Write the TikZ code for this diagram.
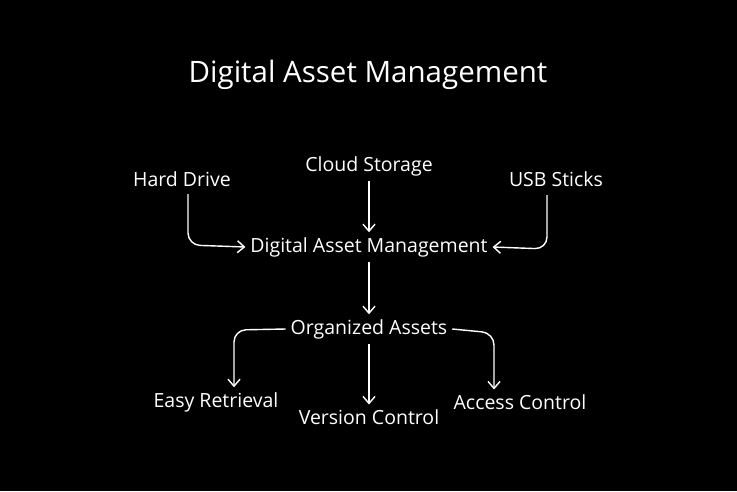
\documentclass[tikz,border=0pt]{standalone}
\usepackage{fontspec}
\setmainfont{Open Sans}
\usetikzlibrary{arrows.meta}
\begin{document}
\begin{tikzpicture}[x=1pt,y=-1pt,
  lbl/.style={text=white,font=\fontsize{19.5}{22}\selectfont,inner sep=1pt,outer sep=4pt},
  ttl/.style={text=white,font=\fontsize{29.5}{34}\selectfont,inner sep=1pt},
  conn/.style={draw=white,line width=1.4pt,rounded corners=12pt,-{Straight Barb[length=7pt,width=12pt,line width=1.4pt]}}]
\fill[black] (0,0) rectangle (737,491);
\useasboundingbox (0,0) rectangle (737,491);
\node[ttl] (title) at (368,75) {Digital Asset Management};
\node[lbl] (hd) at (182,179) {Hard Drive};
\node[lbl] (cs) at (369,166) {Cloud Storage};
\node[lbl] (usb) at (556,179) {USB Sticks};
\node[lbl] (dam) at (369,247) {Digital Asset Management};
\node[lbl] (org) at (369,329) {Organized Assets};
\node[lbl] (easy) at (216,402) {Easy Retrieval};
\node[lbl] (ver) at (369,417) {Version Control};
\node[lbl] (acc) at (520,402) {Access Control};
\draw[conn] (188,194) -- (188,245) -- (dam.west);
\draw[conn] (cs.south) -- (dam.north);
\draw[conn] (547,195) -- (547,249) -- (dam.east);
\draw[conn] (dam.south) -- (org.north);
\draw[conn] (org.west) -- (234,330) -- (easy.north -| 234,0);
\draw[conn] (org.south) -- (ver.north);
\draw[conn] (org.east) -- (494,333) -- (acc.north -| 494,0);
\end{tikzpicture}
\end{document}
